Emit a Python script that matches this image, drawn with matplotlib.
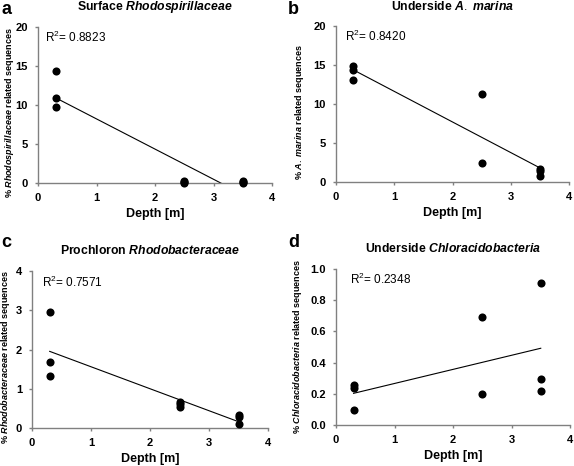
import numpy as np
import matplotlib
matplotlib.use('Agg')
import matplotlib.pyplot as plt
from matplotlib.ticker import FormatStrFormatter

plt.rcParams['font.family'] = 'Liberation Sans'
plt.rcParams['mathtext.fontset'] = 'custom'
plt.rcParams['mathtext.rm'] = 'Liberation Sans'
plt.rcParams['mathtext.it'] = 'Liberation Sans:italic:bold'
plt.rcParams['mathtext.bf'] = 'Liberation Sans:bold'

# depth (m) and % related sequences
depth_a = [0.3, 0.3, 0.3, 2.5, 2.5, 2.5, 3.5, 3.5, 3.5]
vals_a = [14.3, 10.9, 9.75, 0.1, 0.2, 0.0, 0.3, 0.0, 0.1]

depth_b = [0.3, 0.3, 0.3, 2.5, 2.5, 3.5, 3.5, 3.5]
vals_b = [14.9, 14.4, 13.1, 11.3, 2.4, 1.7, 1.4, 0.8]

depth_c = [0.3, 0.3, 0.3, 2.5, 2.5, 2.5, 3.5, 3.5, 3.5]
vals_c = [2.96, 1.69, 1.32, 0.66, 0.60, 0.54, 0.34, 0.29, 0.10]

depth_d = [0.3, 0.3, 0.3, 2.5, 2.5, 3.5, 3.5, 3.5]
vals_d = [0.255, 0.234, 0.094, 0.69, 0.196, 0.908, 0.296, 0.215]

r2_text = ['0.8823', '0.8420', '0.7571', '0.2348']
letters = ['a', 'b', 'c', 'd']
titles = [r'Surface $\it{Rhodospirillaceae}$',
          r'Underside $\it{A.}$ $\it{marina}$',
          r'Prochloron $\it{Rhodobacteraceae}$',
          r'Underside $\it{Chloracidobacteria}$']
ylabels = [r'% $\it{Rhodospirillaceae}$ related sequences',
           r'% $\it{A.}$ $\it{marina}$ related sequences',
           r'% $\it{Rhodobacteraceae}$ related sequences',
           r'% $\it{Chloracidobacteria}$ related sequences']
yticks = [[0, 5, 10, 15, 20], [0, 5, 10, 15, 20], [0, 1, 2, 3, 4],
          [0.0, 0.2, 0.4, 0.6, 0.8, 1.0]]

W, H = 574, 466
fig = plt.figure(figsize=(W / 100, H / 100), dpi=100)

# axes boxes in pixels: left, right, top, bottom
boxes = [(38, 272, 27, 183), (336, 569, 26, 182),
         (32, 268, 271, 428), (336, 570, 269, 425)]
letter_pos = [(1, 1), (288, 1), (1, 234), (288, 234)]
r2_pos = [(45, 37), (345, 36), (42, 282), (350, 279)]
ylab_x = [10, 300, 6, 297]
ylab_y = [0.45, 0.45, 0.45, 0.5]

data = [(depth_a, vals_a), (depth_b, vals_b), (depth_c, vals_c), (depth_d, vals_d)]

for i, (x, y) in enumerate(data):
    l, r, t, b = boxes[i]
    ax = fig.add_axes([l / W, 1 - b / H, (r - l) / W, (b - t) / H])
    x = np.array(x)
    y = np.array(y)
    ax.scatter(x, y, s=34, color='black', zorder=3, clip_on=False, linewidths=0)
    k, c0 = np.polyfit(x, y, 1)
    xs = np.array([x.min(), x.max()])
    ax.plot(xs, k * xs + c0, color='black', lw=0.8)
    ax.set_xlim(0, 4)
    ax.set_ylim(yticks[i][0], yticks[i][-1])
    ax.set_xticks([0, 1, 2, 3, 4])
    ax.set_yticks(yticks[i])
    if i == 3:
        ax.yaxis.set_major_formatter(FormatStrFormatter('%.1f'))
    for s in ['top', 'right']:
        ax.spines[s].set_visible(False)
    for s in ['left', 'bottom']:
        ax.spines[s].set_color('#808080')
        ax.spines[s].set_linewidth(1.0)
    ax.tick_params(direction='out', length=2.2, width=1, color='#808080',
                   labelsize=8, pad=5)
    for lab in ax.get_xticklabels() + ax.get_yticklabels():
        lab.set_fontweight('bold')
    ax.set_xlabel('Depth [m]', fontsize=9, fontweight='bold', va='top')
    ax.xaxis.set_label_coords(0.5, -25 / (b - t))
    ax.set_ylabel(ylabels[i], fontsize=6.5, fontweight='bold', va='center')
    ax.yaxis.set_label_coords((ylab_x[i] - l) / (r - l), ylab_y[i])
    fig.text((l + r) / 2 / W, 1 - (t - 20) / H, titles[i],
             ha='center', va='center', fontsize=8.8, fontweight='bold')
    fig.text(letter_pos[i][0] / W, 1 - letter_pos[i][1] / H, letters[i],
             ha='left', va='top', fontsize=13, fontweight='bold')
    fig.text(r2_pos[i][0] / W, 1 - r2_pos[i][1] / H, 'R$^2$= ' + r2_text[i],
             ha='left', va='center', fontsize=8.5)

fig.savefig('out.png', dpi=100)
